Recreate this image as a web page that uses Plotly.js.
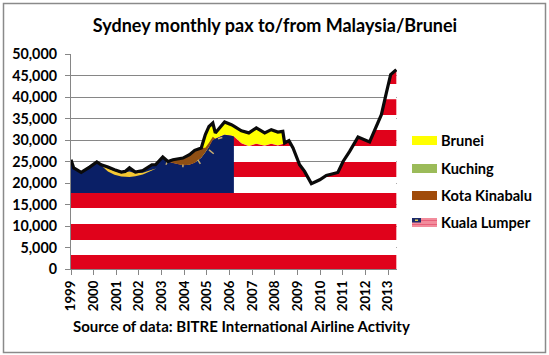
<!DOCTYPE html>
<html>
<head>
<meta charset="utf-8">
<script src="https://cdn.plot.ly/plotly-3.0.1.min.js"></script>
<style>html,body{margin:0;padding:0;background:#fff}#c{width:549px;height:355px}</style>
</head>
<body>
<div id="c"></div>
<script>
// ---- data ----
const years = [1999.00,1999.12,1999.45,1999.82,2000.14,2000.33,2000.63,2000.92,2001.22,2001.39,2001.58,2001.84,2002.17,2002.57,2002.73,2003.05,2003.28,2003.50,2003.94,2004.23,2004.46,2004.75,2004.93,2005.09,2005.26,2005.37,2005.78,2006.08,2006.19,2006.52,2006.85,2007.18,2007.55,2007.84,2008.13,2008.35,2008.43,2008.62,2008.80,2009.09,2009.31,2009.61,2009.98,2010.27,2010.78,2011.01,2011.30,2011.67,2012.18,2012.70,2012.92,2013.11,2013.36];
const total = [25400,23500,22450,23700,24900,24250,23700,23100,22550,22700,23550,22550,22900,24250,24250,26050,25000,25400,25800,26600,27600,28150,31250,33150,33950,31650,34200,33550,33200,32150,31650,32800,31650,32400,31850,32000,29300,29850,28150,24250,22700,19850,20750,21750,22450,25000,27350,30700,29550,35900,40950,45200,46350];
const kualaLumpur = [25400,23500,22450,23700,24900,24250,23700,23100,22550,22700,23550,22550,22900,24250,24250,26050,25000,24650,24100,24250,24700,25900,27150,28450,30050,30300,31250,31000,30800,29250,28550,29150,28650,29150,28750,29050,29300,29850,28150,24250,22700,19850,20750,21750,22450,25000,27350,30700,29550,35900,40950,45200,46350];
const kotaKinabalu = [25400,23500,22450,23700,24900,24250,23700,23100,22550,22700,23550,22550,22900,24250,24250,26050,25000,25400,25800,26600,27600,28150,28200,29350,30750,30300,31250,31000,30800,29250,28550,29150,28650,29150,28750,29050,29300,29850,28150,24250,22700,19850,20750,21750,22450,25000,27350,30700,29550,35900,40950,45200,46350];

// crescent on the flag canton (upper and lower edges)
const crescentX = [2000.20,2000.63,2000.92,2001.22,2001.58,2001.84,2002.17,2002.57,2002.76];
const crescentUp = [24700,23400,22800,22250,22700,22250,22400,23100,23400];
const crescentLo = [24700,22700,21900,21500,21400,21550,22000,22900,23400];

// star rays on the canton, pairs of points
const rayX = [2003.26,2003.19,null,2003.94,2003.94,null,2004.60,2004.71,null,2005.09,2005.30,null,2005.49,2005.68];
const rayY = [25000,24250,null,24300,23650,null,25400,24450,null,27700,26800,null,30300,30600];

const redBands = [[0,3250],[6750,10450],[14200,17650],[21400,24900],[28600,32300],[35800,39500],[43000,46700]];
const cantonBottom = 17650;
const cantonEnd = 2006.19;

const yTicks = [0,5000,10000,15000,20000,25000,30000,35000,40000,45000,50000];
const yLabels = ['0','5,000','10,000','15,000','20,000','25,000','30,000','35,000','40,000','45,000','50,000'];
const xTicks = [1999,2000,2001,2002,2003,2004,2005,2006,2007,2008,2009,2010,2011,2012,2013];
const legendNames = ['Brunei','Kuching','Kota Kinabalu','Kuala Lumper'];
const legendColors = ['#ffff00','#9bbb59','#a04b0a','#f28c9c'];

const titleText = 'Sydney monthly pax to/from Malaysia/Brunei';
const sourceText = 'Source of data: BITRE International Airline Activity';

// ---- colours ----
const RED = '#e0021b', BLUE = '#0a1f66', YELLOW = '#ffff00', BROWN = '#8f4f14', GREY = '#868686', GOLD='#f5c832', TAN='#c9ad70';
const FONT = 'Lato, "Open Sans", sans-serif';

// add crossing points so stripes have clean edges under the curve
function refine(xs, ys, levels){
  const rx=[xs[0]], ry=[ys[0]];
  for(let i=1;i<xs.length;i++){
    const a=ys[i-1], b=ys[i], cross=[];
    levels.forEach(l=>{ if((a-l)*(b-l)<0) cross.push((l-a)/(b-a)); });
    cross.sort((p,q)=>p-q).forEach(t=>{ rx.push(xs[i-1]+t*(xs[i]-xs[i-1])); ry.push(a+t*(b-a)); });
    rx.push(xs[i]); ry.push(b);
  }
  return [rx,ry];
}
const levels = redBands.flat().concat([cantonBottom]);
const [fx, fy] = refine(years, kualaLumpur, levels);
const traces = [];
const hidden = {width:0,color:'rgba(0,0,0,0)',simplify:false};
function band(x, lower, upper, color){
  traces.push({x:x,y:lower,mode:'lines',type:'scatter',line:hidden,hoverinfo:'skip',showlegend:false});
  traces.push({x:x,y:upper,mode:'lines',type:'scatter',fill:'tonexty',fillcolor:color,line:hidden,hoverinfo:'skip',showlegend:false});
}

// yellow (Brunei) between the flag and the total line
band(years, kualaLumpur, total, YELLOW);

// flag white ground
band(fx, fy.map(()=>0), fy, '#ffffff');

// red stripes, clipped to the Kuala Lumpur curve
redBands.forEach(([lo,hi])=>{
  band(fx, fy.map(v=>Math.min(v,lo)), fy.map(v=>Math.min(v,hi)), RED);
});

// blue canton
const cx=[], cy=[];
fx.forEach((x,i)=>{ if(x<=cantonEnd){ cx.push(x); cy.push(Math.max(fy[i],cantonBottom)); }});
band(cx, cy.map(()=>cantonBottom), cy, BLUE);

// crescent
band(crescentX, crescentLo, crescentUp, GOLD);

// Kota Kinabalu brown band
band(years, kualaLumpur, kotaKinabalu, BROWN);

// rays
traces.push({x:rayX,y:rayY,mode:'lines',type:'scatter',line:{color:TAN,width:1.5},hoverinfo:'skip',showlegend:false});

// total line
traces.push({x:years,y:total,mode:'lines',type:'scatter',line:{color:'#0a0a0a',width:3.2,simplify:false},showlegend:false,name:'Total'});

// legend drawn in page pixels
const W=549,H=355,L=71,R=152,T=54,B=86;
const px=x=>(x-L)/(W-L-R), py=y=>1-(y-T)/(H-T-B);
const rect=(x0,y0,x1,y1,fill,extra)=>Object.assign({type:'rect',xref:'paper',yref:'paper',x0:px(x0),x1:px(x1),y0:py(y0),y1:py(y1),fillcolor:fill,line:{width:0},layer:'above'},extra||{});
const swatchY=[136,164,191,218];
const shapes=[
  {type:'rect',xref:'paper',yref:'paper',x0:px(3.5),x1:px(545.5),y0:py(3.5),y1:py(352.5),fillcolor:'rgba(0,0,0,0)',line:{color:'#8a8a8a',width:1.5},layer:'below'}
];
legendColors.forEach((c,i)=>shapes.push(rect(412,swatchY[i],437,swatchY[i]+9,c)));
// small flag stripes on the last swatch
shapes.push(rect(412,220,437,221,'#e8607a'));
shapes.push(rect(412,224,437,225,'#e8607a'));
shapes.push(rect(412,218,421,222.5,'#1c2a6a'));
shapes.push(rect(415,219.5,418,221,'#e8d24a'));

const annotations=[];
legendNames.forEach((n,i)=>annotations.push({xref:'paper',yref:'paper',x:px(439),y:py(swatchY[i]+4.5),xanchor:'left',yanchor:'middle',showarrow:false,text:'<b>'+n+'</b>',font:{family:FONT,size:14.6,color:'#000'}}));
annotations.push({xref:'paper',yref:'paper',x:px(71),y:py(326),xanchor:'left',yanchor:'middle',showarrow:false,text:'<b>'+sourceText+'</b>',font:{family:FONT,size:15,color:'#000'}});

const layout={
  width:W,height:H,margin:{l:L,r:R,t:T,b:B,pad:0},
  paper_bgcolor:'#fff',plot_bgcolor:'#fff',showlegend:false,
  title:{text:'<b>'+titleText+'</b>',font:{family:FONT,size:18,color:'#000'},x:275/W,xanchor:'center',y:1-26/H,yanchor:'middle'},
  xaxis:{range:[1999,2013.39],tickmode:'array',tickvals:xTicks,ticktext:xTicks.map(String),tickangle:-90,ticks:'outside',ticklen:5,tickcolor:GREY,tickwidth:1.3,showgrid:false,zeroline:false,showline:true,linecolor:GREY,linewidth:1.3,tickfont:{family:FONT,size:13.3,color:'#000',weight:700}},
  yaxis:{range:[0,50000],tickmode:'array',tickvals:yTicks,ticktext:yLabels,ticks:'outside',ticklen:5,ticklabelstandoff:5,tickcolor:GREY,tickwidth:1.3,showgrid:true,gridcolor:GREY,gridwidth:1.3,zeroline:false,showline:true,linecolor:GREY,linewidth:1.3,tickfont:{family:FONT,size:14.3,color:'#000',weight:700}},
  shapes:shapes,annotations:annotations
};
Plotly.newPlot('c',traces,layout,{displayModeBar:false,responsive:false});
</script>
</body>
</html>
